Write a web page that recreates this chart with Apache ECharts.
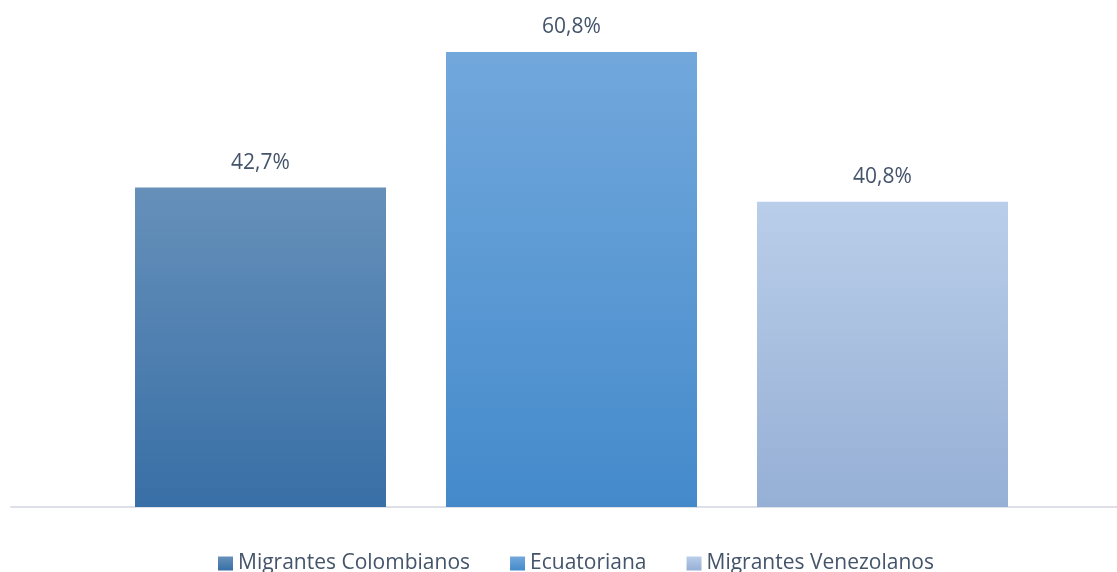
<!DOCTYPE html>
<html>
<head>
<meta charset="utf-8">
<script src="https://cdn.jsdelivr.net/npm/echarts@6/dist/echarts.min.js"></script>
<style>html,body{margin:0;padding:0;background:#fff;}#c{width:1117px;height:572px;}</style>
</head>
<body>
<div id="c"></div>
<script>
const categories = [''];
const seriesNames = ['Migrantes Colombianos', 'Ecuatoriana', 'Migrantes Venezolanos'];
const seriesValues = [42.7, 60.8, 40.8];
const topColors = ['#6690ba', '#72a8dc', '#b9cee9'];
const bottomColors = ['#386fa6', '#448acb', '#96afd5'];

const chart = echarts.init(document.getElementById('c'), null, {renderer: 'canvas'});
const font = '"Open Sans", sans-serif';
const series = seriesNames.map((name, i) => ({
  name: name,
  type: 'bar',
  xAxisIndex: 0,
  yAxisIndex: 0,
  data: [seriesValues[i]],
  barWidth: 251,
  barGap: '23.9%',
  itemStyle: {
    color: new echarts.graphic.LinearGradient(0, 0, 0, 1, [
      {offset: 0, color: topColors[i]},
      {offset: 1, color: bottomColors[i]}
    ])
  },
  label: {
    show: true,
    position: 'top',
    distance: 14,
    color: '#44546a',
    fontSize: 21,
    fontFamily: font,
    formatter: p => p.value.toFixed(1).replace('.', ',') + '%'
  }
}));

chart.setOption({
  animation: false,
  backgroundColor: '#fff',
  grid: [
    {left: 26, right: 0, top: 20.5, bottom: 65},
    {left: 11, right: 0, top: 20.5, bottom: 65}
  ],
  legend: {
    top: 548,
    left: 213,
    itemWidth: 15,
    itemHeight: 14,
    itemGap: 40,
    icon: 'rect',
    textStyle: {color: '#44546a', fontSize: 21, fontFamily: font},
    data: seriesNames
  },
  xAxis: [
    {
      type: 'category',
      gridIndex: 0,
      data: categories,
      axisLine: {show: false},
      axisTick: {show: false},
      axisLabel: {show: false}
    },
    {
      type: 'category',
      gridIndex: 1,
      data: categories,
      axisLine: {lineStyle: {color: '#dde1e7', width: 2}},
      axisTick: {show: false},
      axisLabel: {show: false}
    }
  ],
  yAxis: [
    {type: 'value', gridIndex: 0, min: 0, max: 65, show: false, splitLine: {show: false}},
    {type: 'value', gridIndex: 1, min: 0, max: 65, show: false, splitLine: {show: false}}
  ],
  series: series
});
</script>
</body>
</html>
